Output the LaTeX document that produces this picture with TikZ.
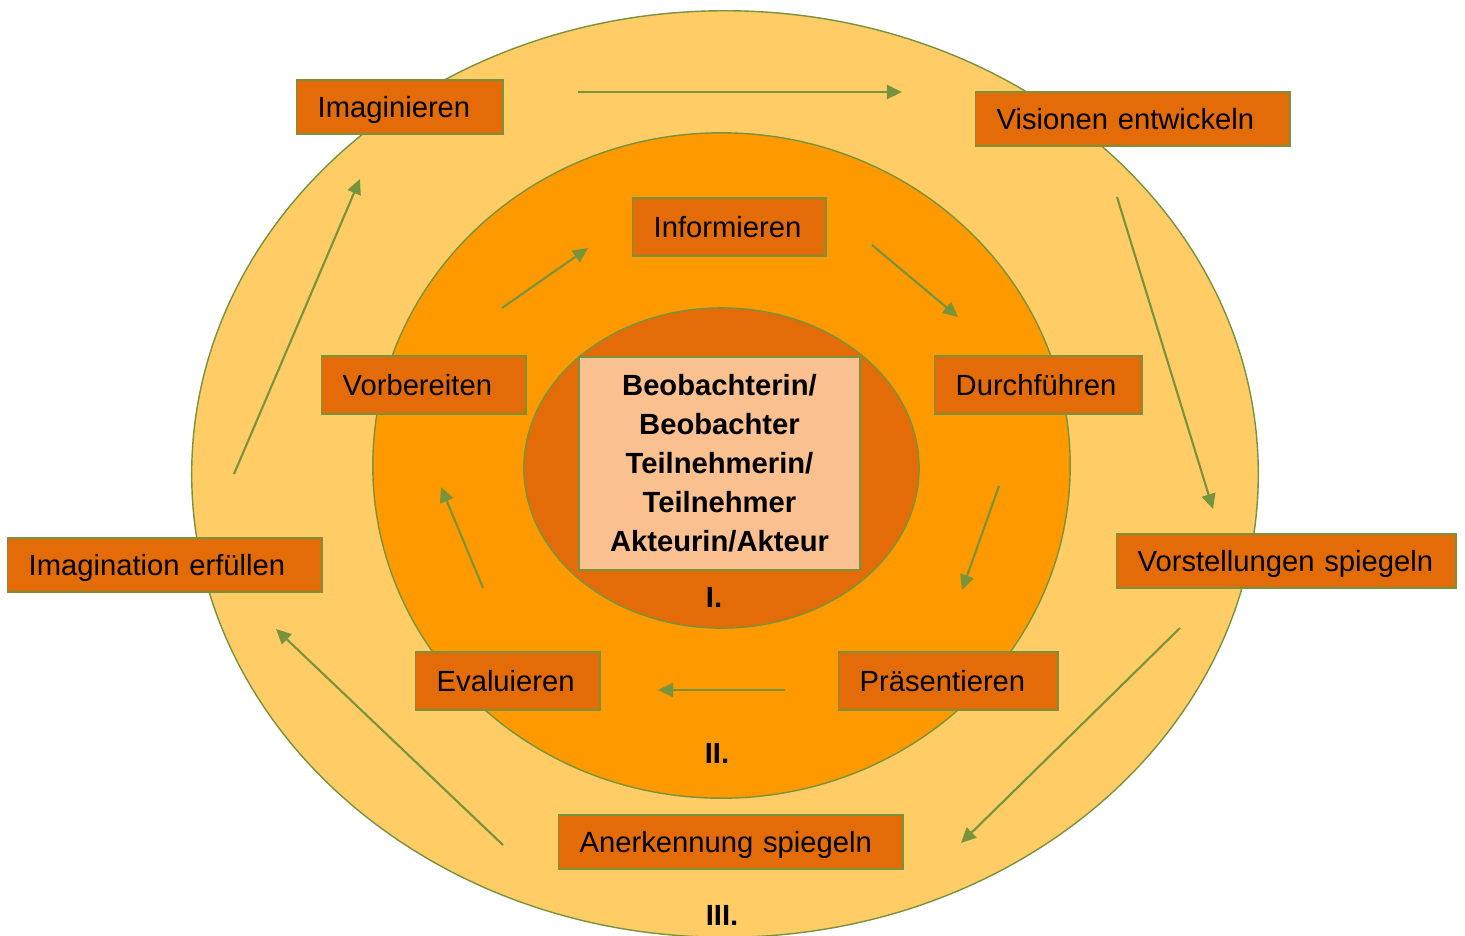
\documentclass[tikz,border=0pt]{standalone}
\usepackage{fontspec}
\setmainfont{Liberation Sans}
\usepackage{tikz}
\usetikzlibrary{arrows.meta}
\usetikzlibrary{positioning}

\definecolor{outerring}{HTML}{FFCC66}
\definecolor{middlering}{HTML}{FF9900}
\definecolor{innerring}{HTML}{E36C09}
\definecolor{corefill}{HTML}{FAC090}
\definecolor{rimgreen}{HTML}{77933C}

\begin{document}
\begin{tikzpicture}[x=0.01cm, y=-0.01cm, font=\fontsize{8.3}{11.1}\selectfont]
                	\useasboundingbox (0,0) rectangle (1465,935);
                	% rings
                	\begin{scope}[draw=rimgreen, line width=0.4pt]
                		\filldraw[fill=outerring] (725,474) ellipse [x radius=5.33cm, y radius=4.63cm];
                		\filldraw[fill=middlering] (721.5,465.5) ellipse [x radius=3.485cm, y radius=3.325cm];
                		\filldraw[fill=innerring] (721.5,468) ellipse [x radius=1.975cm, y radius=1.6cm];
                	\end{scope}

                	\node[draw=rimgreen, fill=corefill, minimum width=2.81cm, minimum height=2.13cm,
                	      align=center, font=\fontsize{8.3}{11.1}\selectfont\bfseries] (core) at (719.5,463.5)
                		{Beobachterin/\\Beobachter\\Teilnehmerin/\\Teilnehmer\\Akteurin/Akteur};

                	\begin{scope}[every node/.style={font=\fontsize{8.3}{10}\selectfont\bfseries}]
                		\node (I) at (714,597) {I.};
                		\node (II) at (717,753) {II.};
                		\node (III) at (722,915) {III.};
                	\end{scope}

                	\begin{scope}[every node/.style={draw=rimgreen, fill=innerring, anchor=west,
                	              inner xsep=0.21cm, inner ysep=0pt, align=left, minimum height=0.54cm,
                	              text height=2.7mm, text depth=0.6mm}]
                		\node[text width=1.64cm] (imag) at (296,107) {Imaginieren};
                		\node[text width=2.72cm] (vis) at (975,119) {Visionen entwickeln};
                		\node[text width=1.51cm, minimum height=0.58cm] (info) at (632,227) {Informieren};
                		\node[text width=1.62cm, minimum height=0.58cm] (vorb) at (321,385) {Vorbereiten};
                		\node[text width=1.65cm, minimum height=0.58cm] (durch) at (934,385) {Durchführen};
                		\node[text width=2.72cm] (erf) at (7,565) {Imagination erfüllen};
                		\node[text width=2.97cm] (vorst) at (1116,561) {Vorstellungen spiegeln};
                		\node[text width=1.42cm, minimum height=0.58cm] (eval) at (415,681) {Evaluieren};
                		\node[text width=1.77cm, minimum height=0.58cm] (praes) at (838,681) {Präsentieren};
                		\node[text width=3.02cm] (anerk) at (558,842) {Anerkennung spiegeln};
                	\end{scope}

                	% arrow ends
                	\coordinate (s1) at (578,92);   \coordinate (e1) at (902,92);
                	\coordinate (s2) at (1117,197); \coordinate (e2) at (1213,509);
                	\coordinate (s3) at (1180,628); \coordinate (e3) at (961,843);
                	\coordinate (s4) at (503,845);  \coordinate (e4) at (276,629);
                	\coordinate (s5) at (234,474);  \coordinate (e5) at (360,179);
                	\coordinate (s6) at (502,308);  \coordinate (e6) at (588,248);
                	\coordinate (s7) at (872,245);  \coordinate (e7) at (958,317);
                	\coordinate (s8) at (999,486);  \coordinate (e8) at (962,590);
                	\coordinate (s9) at (785,690);  \coordinate (e9) at (658,690);
                	\coordinate (s10) at (483,588); \coordinate (e10) at (441,487);

                	\begin{scope}[>={Triangle[length=0.15cm, width=0.14cm]}, draw=rimgreen, line width=0.6pt]
                		\foreach \i in {1,...,10}
			{
				\draw[->] (s\i) -- (e\i);
			}
                	\end{scope}
\end{tikzpicture}
\end{document}
